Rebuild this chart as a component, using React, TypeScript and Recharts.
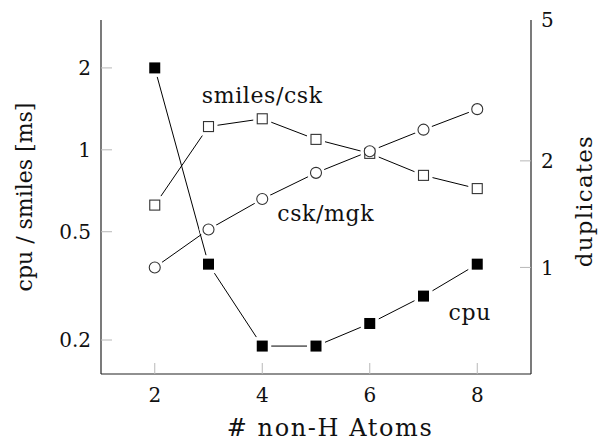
import React from 'react';
import {
  ComposedChart,
  Line,
  XAxis,
  YAxis,
  ReferenceDot,
} from 'recharts';

// values
const atoms = [2, 3, 4, 5, 6, 7, 8];
const cpuMs = [2.0, 0.38, 0.19, 0.19, 0.23, 0.29, 0.38];
const smilesCsk = [1.5, 2.5, 2.63, 2.3, 2.1, 1.82, 1.67];
const cskMgk = [1.0, 1.28, 1.56, 1.85, 2.13, 2.45, 2.8];

const xTicks = [2, 4, 6, 8];
const leftTicks = [0.2, 0.5, 1, 2];
const rightTicks = [1, 2, 5];

const FONT = '"DejaVu Serif", serif';
const TICK_COLOR = '#b8b8b8';
const TICK_LEN = 11;
const FRAME = '#222';

const data = atoms.map((a, i) => ({
  atoms: a,
  cpu: cpuMs[i],
  smilesCsk: smilesCsk[i],
  cskMgk: cskMgk[i],
}));

// ticks drawn inside the frame, like pgfplots
function LeftTick({ x, y, payload, gap }: any) {
  const edge = x + gap;
  return (
    <g>
      <line x1={edge} y1={y} x2={edge + TICK_LEN} y2={y} stroke={TICK_COLOR} />
      <text x={x} y={y} dy="0.36em" textAnchor="end" fontFamily={FONT} fontSize={20} fill="#111">
        {payload.value}
      </text>
    </g>
  );
}

function RightTick({ x, y, payload, gap }: any) {
  const edge = x - gap;
  return (
    <g>
      {payload.value !== 5 && (
        <line x1={edge} y1={y} x2={edge - TICK_LEN} y2={y} stroke={TICK_COLOR} />
      )}
      <text x={x} y={y} dy="0.36em" textAnchor="start" fontFamily={FONT} fontSize={20} fill="#111">
        {payload.value}
      </text>
    </g>
  );
}

function BottomTick({ x, y, payload, gap }: any) {
  const edge = y - gap;
  return (
    <g>
      <line x1={x} y1={edge} x2={x} y2={edge - TICK_LEN} stroke={TICK_COLOR} />
      <text x={x} y={y} dy="0.72em" textAnchor="middle" fontFamily={FONT} fontSize={20} fill="#111">
        {payload.value}
      </text>
    </g>
  );
}

function TopTick({ x, y }: any) {
  return <line x1={x} y1={y} x2={x} y2={y + TICK_LEN} stroke={TICK_COLOR} />;
}

// white halo so the connecting lines stop short of each marker
function Halo(kind: 'square' | 'circle') {
  return (p: any) => {
    if (p.cx == null || p.cy == null) return <g key={p.key ?? p.index} />;
    if (kind === 'circle')
      return <circle key={p.index} cx={p.cx} cy={p.cy} r={9} fill="#fff" />;
    return <rect key={p.index} x={p.cx - 9} y={p.cy - 9} width={18} height={18} fill="#fff" />;
  };
}

function FilledSquare(p: any) {
  if (p.cx == null) return <g key={p.index} />;
  return <rect key={p.index} x={p.cx - 5.5} y={p.cy - 5.5} width={11} height={11} fill="#000" />;
}

function OpenSquare(p: any) {
  if (p.cx == null) return <g key={p.index} />;
  return (
    <rect key={p.index} x={p.cx - 5} y={p.cy - 5} width={10} height={10} fill="#fff" stroke="#333" strokeWidth={1.1} />
  );
}

function OpenCircle(p: any) {
  if (p.cx == null) return <g key={p.index} />;
  return <circle key={p.index} cx={p.cx} cy={p.cy} r={5.5} fill="#fff" stroke="#333" strokeWidth={1.1} />;
}

function annotation(text: string, size = 22, spacing = 0.6) {
  return {
    content: (p: any) => {
      const vb = p.viewBox || {};
      const cx = (vb.x ?? 0) + (vb.width ?? 0) / 2;
      const cy = (vb.y ?? 0) + (vb.height ?? 0) / 2;
      return (
        <text x={cx} y={cy} dy="0.35em" textAnchor="middle" fontFamily={FONT} fontSize={size}
          letterSpacing={spacing} fill="#111">
          {text}
        </text>
      );
    },
  };
}

export default function App() {
  const series = [
    { key: 'cpu', axis: 'left', halo: 'square' as const, dot: FilledSquare },
    { key: 'smilesCsk', axis: 'right', halo: 'square' as const, dot: OpenSquare },
    { key: 'cskMgk', axis: 'right', halo: 'circle' as const, dot: OpenCircle },
  ];

  return (
    <div style={{ position: 'absolute', left: 0, top: 0, background: '#fff' }}>
      <ComposedChart width={598} height={443} data={data} margin={{ top: 20, right: 0, bottom: 0, left: 0 }}>
        <XAxis
          xAxisId="bottom"
          dataKey="atoms"
          type="number"
          domain={[1, 9]}
          ticks={xTicks}
          height={69}
          tickSize={0}
          tickMargin={14}
          tickLine={false}
          axisLine={{ stroke: FRAME, strokeWidth: 1.2 }}
          tick={<BottomTick gap={14} />}
          label={{
            content: (p: any) => {
              const vb = p.viewBox;
              return (
                <text x={vb.x + vb.width / 2 + 14} y={436} textAnchor="middle" fontFamily={FONT}
                  fontSize={24} letterSpacing={1.6} fill="#111">
                  # non-H Atoms
                </text>
              );
            },
          }}
        />
        <XAxis
          xAxisId="top"
          orientation="top"
          dataKey="atoms"
          type="number"
          domain={[1, 9]}
          ticks={xTicks}
          height={0}
          tickSize={0}
          tickMargin={0}
          tickLine={false}
          axisLine={{ stroke: FRAME, strokeWidth: 1.2 }}
          tick={<TopTick />}
        />
        <YAxis
          yAxisId="left"
          scale="log"
          domain={[0.15, 3]}
          allowDataOverflow
          ticks={leftTicks}
          width={101}
          tickSize={0}
          tickMargin={10}
          tickLine={false}
          axisLine={{ stroke: FRAME, strokeWidth: 1.2 }}
          tick={<LeftTick gap={10} />}
          label={{
            content: (p: any) => {
              const vb = p.viewBox;
              const cy = vb.y + vb.height / 2;
              return (
                <text x={32} y={cy} transform={`rotate(-90 32 ${cy})`} textAnchor="middle"
                  fontFamily={FONT} fontSize={22} fill="#111">
                  cpu / smiles [ms]
                </text>
              );
            },
          }}
        />
        <YAxis
          yAxisId="right"
          orientation="right"
          scale="log"
          domain={[0.5, 5]}
          allowDataOverflow
          ticks={rightTicks}
          width={67}
          tickSize={0}
          tickMargin={10}
          tickLine={false}
          axisLine={{ stroke: FRAME, strokeWidth: 1.2 }}
          tick={<RightTick gap={10} />}
          label={{
            content: (p: any) => {
              const vb = p.viewBox;
              const cy = vb.y + vb.height / 2 + 4;
              return (
                <text x={592} y={cy} transform={`rotate(-90 592 ${cy})`} textAnchor="middle"
                  fontFamily={FONT} fontSize={23} letterSpacing={1.2} fill="#111">
                  duplicates
                </text>
              );
            },
          }}
        />

        {/* pass 1: connecting lines */}
        {series.map((s) => (
          <Line
            key={`line-${s.key}`}
            xAxisId="bottom"
            yAxisId={s.axis}
            dataKey={s.key}
            type="linear"
            stroke="#000"
            strokeWidth={1}
            dot={false}
            activeDot={false}
            isAnimationActive={false}
          />
        ))}
        {/* pass 2: halos */}
        {series.map((s) => (
          <Line
            key={`halo-${s.key}`}
            xAxisId="bottom"
            yAxisId={s.axis}
            dataKey={s.key}
            stroke="none"
            dot={Halo(s.halo)}
            activeDot={false}
            isAnimationActive={false}
          />
        ))}
        {/* pass 3: markers */}
        {series.map((s) => (
          <Line
            key={`mark-${s.key}`}
            xAxisId="bottom"
            yAxisId={s.axis}
            dataKey={s.key}
            stroke="none"
            dot={s.dot}
            activeDot={false}
            isAnimationActive={false}
          />
        ))}

        <ReferenceDot xAxisId="bottom" yAxisId="left" x={4} y={1.59} r={0} fill="none" stroke="none"
          label={annotation('smiles/csk')} />
        <ReferenceDot xAxisId="bottom" yAxisId="left" x={5.18} y={0.585} r={0} fill="none" stroke="none"
          label={annotation('csk/mgk')} />
        <ReferenceDot xAxisId="bottom" yAxisId="left" x={7.86} y={0.253} r={0} fill="none" stroke="none"
          label={annotation('cpu')} />
      </ComposedChart>
    </div>
  );
}
